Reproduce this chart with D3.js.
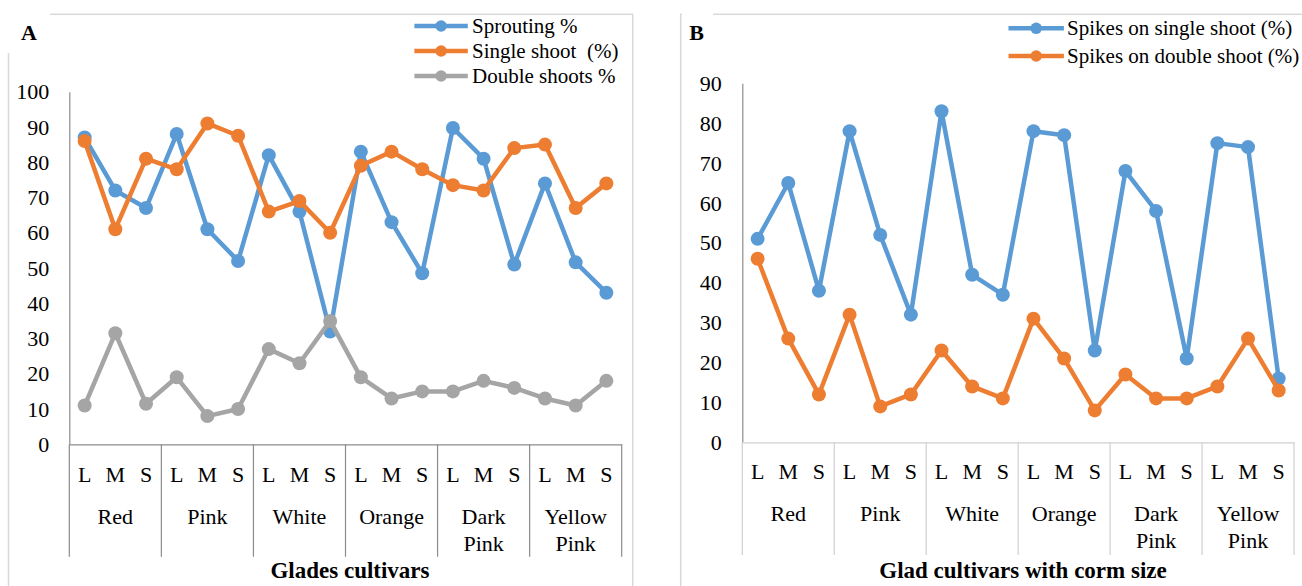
<!DOCTYPE html>
<html>
<head>
<meta charset="utf-8">
<script src="https://cdn.jsdelivr.net/npm/d3@7"></script>
<style>
  html, body { margin: 0; padding: 0; background: #ffffff; }
  svg { display: block; }
  svg text { font-family: "Liberation Serif", "Times New Roman", "DejaVu Serif", "Liberation Sans", Arial, sans-serif !important; fill: #000; }
</style>
</head>
<body>
<svg id="chart" width="1302" height="586"></svg>
<script>
// ---------------- DATA ----------------
const groups = ["Red", "Pink", "White", "Orange", "Dark Pink", "Yellow Pink"];
const sizes = ["L", "M", "S"];

// Panel A
const sproutingPct   = [87, 72, 67, 88, 61, 52, 82, 66, 32, 83, 63, 48.5, 89.7, 81, 51, 74, 51.6, 43];
const singleShootPct = [86, 61, 81, 78, 91, 87.5, 66, 69, 60, 79, 83, 78, 73.5, 72, 84, 85, 67, 74];
const doubleShootPct = [11, 31.5, 11.5, 19, 8, 10, 27, 23, 35, 19, 13, 15, 15, 18, 16, 13, 11, 18];
const seriesNamesA = ["Sprouting %", "Single shoot  (%)", "Double shoots %"];
const yTicksA = [0, 10, 20, 30, 40, 50, 60, 70, 80, 90, 100];
const xTitleA = "Glades cultivars";

// Panel B
const spikesSingle = [51, 65, 38, 78, 52, 32, 83, 42, 37, 78, 77, 23, 68, 58, 21, 75, 74, 16];
const spikesDouble = [46, 26, 12, 32, 9, 12, 23, 14, 11, 31, 21, 8, 17, 11, 11, 14, 26, 13];
const seriesNamesB = ["Spikes on single shoot (%)", "Spikes on double shoot (%)"];
const yTicksB = [0, 10, 20, 30, 40, 50, 60, 70, 80, 90];
const xTitleB = "Glad cultivars with corm size";

const colors = ["#5b9bd5", "#ed7d31", "#a5a5a5"];

// ---------------- DRAW ----------------
const svg = d3.select("#chart");
const FONT = 22;

function drawPanel(cfg) {
  const g = svg.append("g");

  g.append("rect")
    .attr("x", cfg.frame[0]).attr("y", cfg.frame[1])
    .attr("width", cfg.frame[2]).attr("height", cfg.frame[3])
    .attr("fill", "none").attr("stroke", "#d9d9d9").attr("stroke-width", 1.5);
  g.append("rect")
    .attr("x", cfg.mask[0]).attr("y", cfg.mask[1])
    .attr("width", cfg.mask[2]).attr("height", cfg.mask[3])
    .attr("fill", "#ffffff");
  g.append("text")
    .attr("x", cfg.letterPos[0]).attr("y", cfg.letterPos[1])
    .attr("text-anchor", "middle")
    .style("font-size", "22px").style("font-weight", "bold")
    .text(cfg.letter);

  const n = groups.length * sizes.length;
  const idx = d3.range(n);
  const x = d3.scaleBand().domain(idx).range([cfg.x0, cfg.x1]).padding(0);
  const xg = d3.scaleBand().domain(groups).range([cfg.x0, cfg.x1]).padding(0);
  const y = d3.scaleLinear().domain([0, d3.max(cfg.yTicks)]).range([cfg.yBase, cfg.yTop]);
  const cx = i => x(i) + x.bandwidth() / 2;

  const yAxis = d3.axisLeft(y).tickValues(cfg.yTicks).tickSize(0).tickSizeOuter(0).tickPadding(cfg.tickPad);
  const ya = g.append("g").attr("transform", `translate(${cfg.x0},0)`).call(yAxis);
  ya.attr("font-family", null);
  ya.select(".domain").attr("stroke", cfg.yAxisColor).attr("stroke-width", 1.2);
  ya.selectAll(".tick text").style("font-size", FONT + "px").attr("fill", "#000");

  const xAxis = d3.axisBottom(x).tickSize(0).tickSizeOuter(0).tickPadding(0)
    .tickFormat(i => sizes[i % sizes.length]);
  const xa = g.append("g").attr("transform", `translate(0,${cfg.yBase})`).call(xAxis);
  xa.attr("font-family", null);
  xa.select(".domain").attr("stroke", cfg.xAxisColor).attr("stroke-width", 1.2);
  xa.selectAll(".tick text")
    .attr("y", cfg.sizeBaseline - cfg.yBase).attr("dy", 0)
    .style("font-size", FONT + "px").attr("fill", "#000");

  const divs = groups.map(gname => xg(gname)).concat([cfg.x1]);
  g.selectAll("line.div").data(divs).enter().append("line")
    .attr("x1", d => d).attr("x2", d => d)
    .attr("y1", cfg.yBase).attr("y2", cfg.divBottom)
    .attr("stroke", cfg.xAxisColor).attr("stroke-width", 1.2);

  groups.forEach(gname => {
    const parts = gname.split(" ");
    const t = g.append("text")
      .attr("x", xg(gname) + xg.bandwidth() / 2)
      .attr("y", cfg.groupBaseline)
      .attr("text-anchor", "middle")
      .style("font-size", FONT + "px");
    parts.forEach((p, k) => {
      t.append("tspan").attr("x", xg(gname) + xg.bandwidth() / 2)
        .attr("dy", k === 0 ? 0 : 27).text(p);
    });
  });

  g.append("text")
    .attr("x", cfg.titleX).attr("y", cfg.titleY)
    .attr("text-anchor", "middle")
    .style("font-size", "23px").style("font-weight", "bold")
    .text(cfg.title);

  const line = d3.line().x((d, i) => cx(i)).y(d => y(d));
  cfg.series.forEach((vals, s) => {
    g.append("path").datum(vals)
      .attr("d", line)
      .attr("fill", "none")
      .attr("stroke", colors[s]).attr("stroke-width", 4.5)
      .attr("stroke-linejoin", "round");
    g.selectAll(null).data(vals).enter().append("circle")
      .attr("cx", (d, i) => cx(i)).attr("cy", d => y(d))
      .attr("r", 7).attr("fill", colors[s]);
  });

  cfg.names.forEach((name, s) => {
    const ly = cfg.legRows[s];
    g.append("line")
      .attr("x1", cfg.legX0).attr("x2", cfg.legX1)
      .attr("y1", ly).attr("y2", ly)
      .attr("stroke", colors[s]).attr("stroke-width", 4.5);
    g.append("circle")
      .attr("cx", (cfg.legX0 + cfg.legX1) / 2).attr("cy", ly)
      .attr("r", 5.8).attr("fill", colors[s]);
    g.append("text")
      .attr("x", cfg.legText).attr("y", ly + 7)
      .style("font-size", "21px")
      .style("white-space", "pre")
      .text(name);
  });
}

drawPanel({
  letter: "A",
  frame: [8.5, 14.3, 624.2, 620],
  mask: [0, 0, 50, 53],
  letterPos: [29, 39.5],
  x0: 69.3, x1: 621.7, yBase: 444.3, yTop: 91.7,
  yTicks: yTicksA, tickPad: 20,
  yAxisColor: "#8c8c8c", xAxisColor: "#8c8c8c",
  sizeBaseline: 481.7, groupBaseline: 523.5, divBottom: 556.7,
  title: xTitleA, titleX: 350, titleY: 577.7,
  series: [sproutingPct, singleShootPct, doubleShootPct],
  names: seriesNamesA,
  legX0: 414.4, legX1: 467.8, legText: 472, legRows: [26, 51, 76]
});

drawPanel({
  letter: "B",
  frame: [680.7, 14.3, 640, 620],
  mask: [682, 8, 31, 40],
  letterPos: [696.5, 39.5],
  x0: 742.3, x1: 1294, yBase: 442.3, yTop: 83.3,
  yTicks: yTicksB, tickPad: 20.5,
  yAxisColor: "#8c8c8c", xAxisColor: "#d0d0d0",
  sizeBaseline: 479, groupBaseline: 520.5, divBottom: 555,
  title: xTitleB, titleX: 1023, titleY: 578,
  series: [spikesSingle, spikesDouble],
  names: seriesNamesB,
  legX0: 1008.5, legX1: 1063.9, legText: 1067.1, legRows: [28.3, 56]
});
</script>
</body>
</html>
